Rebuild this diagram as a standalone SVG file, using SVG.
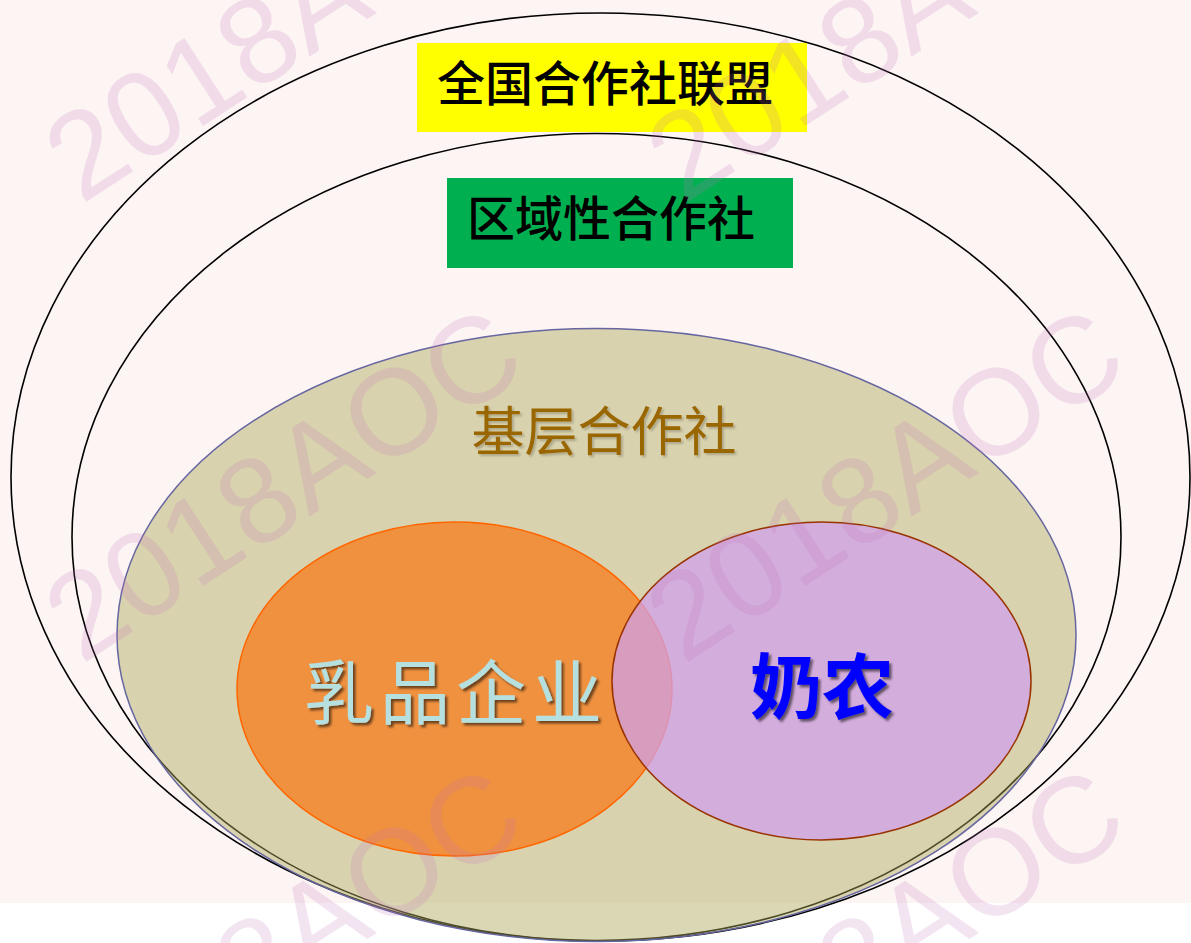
<svg xmlns="http://www.w3.org/2000/svg" width="1191" height="943" viewBox="0 0 1191 943">
<defs>
<style>
.ring{fill:none;stroke:#000;stroke-width:1.6}
.lbl{font-family:"Noto Sans CJK SC","Noto Sans CJK TC",sans-serif;text-anchor:middle}
.wm{font-family:"Liberation Sans",Arial,sans-serif;font-size:122px;fill:#c070b8;fill-opacity:0.19;text-anchor:middle}
</style>
<filter id="sh" x="-10%" y="-10%" width="120%" height="130%">
<feDropShadow dx="2.5" dy="2.5" stdDeviation="1" flood-color="#000" flood-opacity="0.55"/>
</filter>
<filter id="shl" x="-10%" y="-10%" width="120%" height="130%">
<feDropShadow dx="2" dy="2" stdDeviation="1" flood-color="#000" flood-opacity="0.2"/>
</filter>
</defs>
<rect x="0" y="0" width="1191" height="943" fill="#ffffff"/>
<rect x="0" y="0" width="1191" height="903" fill="#fdf4f4"/>

<g id="national">
<ellipse class="ring" cx="600.5" cy="477" rx="589.5" ry="464"/>
<rect x="417" y="43" width="390" height="89" fill="#ffff00"/>
<text class="lbl" x="605" y="101" font-size="48" font-weight="500" fill="#000">全国合作社联盟</text>
</g>

<g id="regional">
<ellipse class="ring" cx="596.5" cy="537" rx="524.5" ry="403.5"/>
<rect x="447" y="178" width="346" height="90" fill="#00b050"/>
<text class="lbl" x="611" y="236" font-size="48" font-weight="500" fill="#000">区域性合作社</text>
</g>

<g id="basic">
<ellipse cx="596.5" cy="635" rx="479.5" ry="306.5" fill="#ada959" fill-opacity="0.45" stroke="#6666a0" stroke-width="1.5"/>
<text class="lbl" x="604" y="451" font-size="53" fill="#996600" filter="url(#shl)">基层合作社</text>
</g>

<g id="dairy">
<ellipse cx="454.5" cy="689" rx="217.5" ry="167" fill="#f0913f" stroke="#ff6600" stroke-width="1.5"/>
<text class="lbl" x="456" y="719" font-size="70" letter-spacing="6" fill="#b6e0e0" filter="url(#sh)">乳品企业</text>
</g>

<g id="farmer">
<ellipse cx="821.5" cy="681" rx="209.5" ry="159" fill="#d0a0eb" fill-opacity="0.75" stroke="#993300" stroke-width="1.5"/>
<text class="lbl" x="822" y="713" font-size="72" font-weight="700" fill="#0000ff" filter="url(#sh)">奶农</text>
</g>

<g id="connectors"></g>

<g id="watermarks">
<text class="wm" x="306" y="59" transform="rotate(-33 306 59)">2018AOC</text>
<text class="wm" x="908" y="59" transform="rotate(-33 908 59)">2018AOC</text>
<text class="wm" x="306" y="519" transform="rotate(-33 306 519)">2018AOC</text>
<text class="wm" x="908" y="519" transform="rotate(-33 908 519)">2018AOC</text>
<text class="wm" x="306" y="979" transform="rotate(-33 306 979)">2018AOC</text>
<text class="wm" x="908" y="979" transform="rotate(-33 908 979)">2018AOC</text>
</g>
</svg>
